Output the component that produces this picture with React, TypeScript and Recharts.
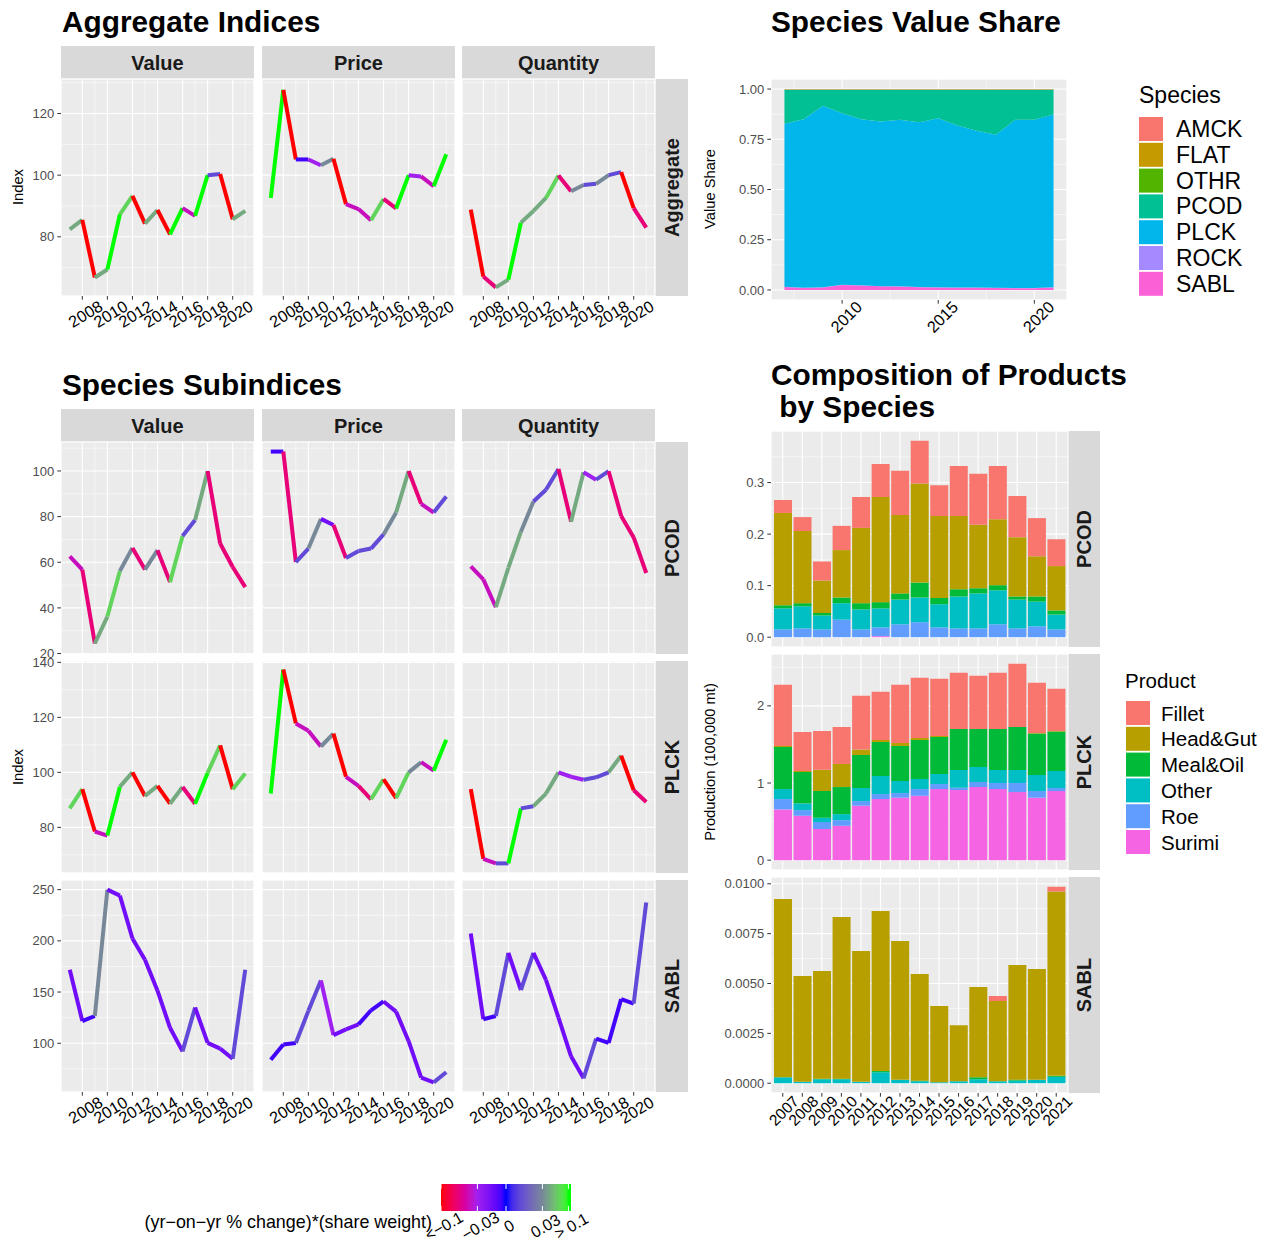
// Fishery indices dashboard: aggregate / species indices, value share, product composition

import React from "react";
import {
  LineChart,
  Line,
  AreaChart,
  Area,
  BarChart,
  Bar,
  XAxis,
  YAxis,
  CartesianGrid,
} from "recharts";

const FONT = '"Liberation Sans", Arial, Helvetica, sans-serif';

// ---------- data ----------
const years = [2007, 2008, 2009, 2010, 2011, 2012, 2013, 2014, 2015, 2016, 2017, 2018, 2019, 2020, 2021];

// (yr-on-yr % change)*(share weight) classes
const R = -0.1, C = -0.068, M = -0.045, P = -0.03, V = -0.015, B = -0.005, S = 0.012, G = 0.03, T = 0.05, L = 0.075, N = 0.1;

const aggValue = [82.4, 85.5, 66.8, 69.4, 87.3, 93.3, 84.3, 88.7, 80.8, 89.3, 86.8, 100, 100.4, 85.7, 88.4];
const aggValueChg = [T, R, T, N, L, R, T, R, N, M, N, S, R, T];
const aggPrice = [92.6, 127.7, 105.1, 105.1, 103.2, 105.3, 90.6, 89.0, 85.4, 92.3, 89.2, 100, 99.6, 96.4, 106.8];
const aggPriceChg = [N, R, B, P, G, R, M, M, L, C, N, P, M, N];
const aggQty = [88.8, 67.1, 63.6, 66.1, 84.6, 88.4, 92.6, 99.9, 94.8, 96.8, 97.2, 100, 101, 89.3, 83.0];
const aggQtyChg = [R, C, T, N, T, T, L, C, G, S, G, S, R, C];

const pcodValue = [62.6, 56.8, 24.4, 36.2, 56.2, 66.3, 56.8, 65.3, 51.3, 71.5, 78.5, 100, 68.2, 57.9, 49.1];
const pcodValueChg = [M, C, T, L, G, C, G, C, L, S, T, C, C, C];
const pcodPrice = [108.5, 108.5, 60.1, 66.0, 79.0, 76.3, 61.9, 64.9, 66.0, 72.2, 81.8, 100, 85.6, 81.8, 88.8];
const pcodPriceChg = [B, C, S, G, V, C, S, S, S, G, T, C, M, S];
const pcodQty = [58.2, 52.5, 40.3, 57.6, 73.4, 86.6, 91.8, 100.9, 77.8, 99.4, 96.2, 99.9, 80.3, 70.9, 55.3];
const pcodQtyChg = [M, M, T, T, G, S, S, C, T, P, S, C, C, C];

const plckValue = [86.9, 93.9, 78.5, 77.0, 94.8, 100, 91.4, 95.1, 88.6, 94.7, 88.6, 99.8, 109.8, 93.9, 99.6];
const plckValueChg = [L, R, M, N, T, R, T, R, T, C, N, L, R, L];
const plckPrice = [92.3, 137.4, 117.8, 115.1, 109.4, 114.1, 98.4, 95.1, 90.2, 97.5, 90.6, 100, 103.7, 100.6, 111.9];
const plckPriceChg = [N, R, M, M, G, R, M, C, L, R, L, G, M, N];
const plckQty = [93.9, 68.5, 66.9, 66.9, 86.9, 87.7, 92.3, 100, 98.4, 97.3, 98.2, 100, 106.1, 93.5, 89.2];
const plckQtyChg = [R, M, S, N, S, T, T, P, P, S, S, T, R, C];

const sablValue = [171.7, 121.7, 126.6, 250, 244.1, 202.3, 181.6, 151.3, 115.1, 92.1, 134.9, 100.3, 94.7, 84.9, 171.7];
const sablValueChg = [V, B, G, V, V, V, V, V, V, S, V, V, V, S];
const sablPrice = [83.9, 98.7, 100.3, 131.6, 161.2, 107.9, 113.5, 118.4, 132.2, 140.8, 130.9, 102, 66.4, 61.8, 71.7];
const sablPriceChg = [B, B, S, S, P, V, V, B, B, V, V, V, V, S];
const sablQty = [207.2, 123.4, 126.6, 188.2, 152, 188.2, 161.8, 125, 87.2, 65.8, 104.6, 100.3, 143.1, 138.8, 237.5];
const sablQtyChg = [V, B, S, V, S, V, V, V, V, S, B, B, B, S];

// species value share
const shareAMCK = [0.0005, 0.0005, 0.0005, 0.0005, 0.0005, 0.0005, 0.0005, 0.0005, 0.0005, 0.0005, 0.0005, 0.0005, 0.0005, 0.0005, 0.0005];
const shareFLAT = [0.002, 0.002, 0.002, 0.002, 0.002, 0.002, 0.002, 0.002, 0.002, 0.002, 0.002, 0.002, 0.002, 0.002, 0.002];
const shareOTHR = [0.0005, 0.0005, 0.0005, 0.0005, 0.0005, 0.0005, 0.0005, 0.0005, 0.0005, 0.0005, 0.0005, 0.0005, 0.0005, 0.0005, 0.0005];
const sharePCOD = [0.17, 0.147, 0.08, 0.117, 0.147, 0.159, 0.15, 0.162, 0.142, 0.179, 0.205, 0.225, 0.15, 0.15, 0.122];
const sharePLCK = [0.811, 0.839, 0.904, 0.854, 0.827, 0.819, 0.829, 0.82, 0.842, 0.806, 0.78, 0.761, 0.837, 0.837, 0.862];
const shareROCK = [0.001, 0.001, 0.001, 0.001, 0.001, 0.001, 0.001, 0.001, 0.001, 0.001, 0.001, 0.001, 0.001, 0.001, 0.001];
const shareSABL = [0.015, 0.01, 0.012, 0.025, 0.022, 0.018, 0.017, 0.014, 0.012, 0.011, 0.011, 0.01, 0.009, 0.009, 0.012];

// product composition (100,000 mt)
const pcodSurimi = [0, 0, 0, 0, 0, 0.002, 0, 0, 0, 0, 0, 0, 0, 0, 0];
const pcodRoe = [0.015, 0.017, 0.015, 0.034, 0.015, 0.017, 0.025, 0.029, 0.019, 0.017, 0.017, 0.025, 0.017, 0.021, 0.015];
const pcodOther = [0.041, 0.043, 0.027, 0.032, 0.039, 0.037, 0.048, 0.048, 0.045, 0.062, 0.068, 0.066, 0.056, 0.048, 0.029];
const pcodMeal = [0.006, 0.006, 0.005, 0.011, 0.012, 0.012, 0.012, 0.029, 0.012, 0.014, 0.01, 0.01, 0.006, 0.01, 0.008];
const pcodHeadGut = [0.179, 0.14, 0.063, 0.092, 0.146, 0.204, 0.152, 0.192, 0.159, 0.142, 0.123, 0.128, 0.115, 0.078, 0.086];
const pcodFillet = [0.025, 0.027, 0.037, 0.047, 0.06, 0.064, 0.086, 0.083, 0.06, 0.097, 0.099, 0.103, 0.08, 0.074, 0.052];

const plckSurimi = [0.658, 0.576, 0.403, 0.446, 0.706, 0.792, 0.81, 0.835, 0.922, 0.909, 0.948, 0.922, 0.883, 0.81, 0.896];
const plckRoe = [0.134, 0.073, 0.091, 0.073, 0.06, 0.065, 0.06, 0.087, 0.065, 0.03, 0.065, 0.078, 0.117, 0.086, 0.039];
const plckOther = [0.13, 0.087, 0.056, 0.078, 0.169, 0.234, 0.156, 0.13, 0.13, 0.23, 0.195, 0.169, 0.169, 0.208, 0.221];
const plckMeal = [0.546, 0.407, 0.346, 0.351, 0.429, 0.441, 0.455, 0.506, 0.48, 0.532, 0.493, 0.532, 0.558, 0.537, 0.511];
const plckHeadGut = [0.013, 0.013, 0.277, 0.299, 0.069, 0.026, 0.038, 0.026, 0.013, 0, 0, 0, 0, 0.008, 0.008];
const plckFillet = [0.792, 0.506, 0.502, 0.48, 0.697, 0.624, 0.754, 0.78, 0.741, 0.728, 0.689, 0.728, 0.818, 0.65, 0.546];

const sablSurimi = [0, 0, 0, 0, 0, 0, 0, 0, 0, 0, 0, 0, 0, 0, 0];
const sablRoe = [0, 0, 0, 0, 0, 0, 0, 0, 0, 0, 0, 0, 0, 0, 0];
const sablOther = [0.0003, 0.00007, 0.0002, 0.0002, 0.00007, 0.00055, 0.00017, 0.0001, 0.00005, 0.0001, 0.0002, 0.0001, 0.00013, 0.00017, 0.00032];
const sablMeal = [0, 0, 0.00003, 0.00003, 0, 0.00006, 0, 0.00003, 0, 0, 0.0001, 0, 0.00005, 0, 0.00005];
const sablHeadGut = [0.00894, 0.00531, 0.0054, 0.00811, 0.00656, 0.00803, 0.00696, 0.00535, 0.00382, 0.00281, 0.00452, 0.00402, 0.00575, 0.00556, 0.00924];
const sablFillet = [0, 0, 0, 0, 0, 0, 0, 0, 0, 0, 0, 0.00025, 0, 0, 0.00024];

const legendBreaks = [-0.1, -0.03, 0, 0.03, 0.1];
const legendLabels = ["<\u22120.1", "\u22120.03", "0", "0.03", "> 0.1"];

// ---------- colour scale (CIELAB interpolation, like scales::colour_ramp) ----------
const rampValues = [-0.1, -0.03, 0, 0.03, 0.1];
const rampColours = ["#FF0000", "#A020F0", "#0000FF", "#778899", "#00FF00"];
// where each ramp value sits along the colour bar (fraction of its width)
const rampPos = [0.0, 0.28, 0.5, 0.78, 0.98];

function toLin(c: number) {
  c /= 255;
  return c <= 0.04045 ? c / 12.92 : Math.pow((c + 0.055) / 1.055, 2.4);
}
function fromLin(c: number) {
  const v = c <= 0.0031308 ? 12.92 * c : 1.055 * Math.pow(c, 1 / 2.4) - 0.055;
  return Math.round(Math.max(0, Math.min(1, v)) * 255);
}
function hexToLab(h: string) {
  const r = toLin(parseInt(h.slice(1, 3), 16));
  const g = toLin(parseInt(h.slice(3, 5), 16));
  const b = toLin(parseInt(h.slice(5, 7), 16));
  const x = (r * 0.4124 + g * 0.3576 + b * 0.1805) / 0.95047;
  const y = r * 0.2126 + g * 0.7152 + b * 0.0722;
  const z = (r * 0.0193 + g * 0.1192 + b * 0.9505) / 1.08883;
  const f = (t: number) => (t > 0.008856 ? Math.cbrt(t) : 7.787 * t + 16 / 116);
  const fx = f(x), fy = f(y), fz = f(z);
  return [116 * fy - 16, 500 * (fx - fy), 200 * (fy - fz)];
}
function labToHex(lab: number[]) {
  const fy = (lab[0] + 16) / 116;
  const fx = fy + lab[1] / 500;
  const fz = fy - lab[2] / 200;
  const inv = (t: number) => (t * t * t > 0.008856 ? t * t * t : (t - 16 / 116) / 7.787);
  const x = inv(fx) * 0.95047, y = inv(fy), z = inv(fz) * 1.08883;
  const r = x * 3.2406 + y * -1.5372 + z * -0.4986;
  const g = x * -0.9689 + y * 1.8758 + z * 0.0415;
  const b = x * 0.0557 + y * -0.204 + z * 1.057;
  return "#" + [r, g, b].map((c) => fromLin(c).toString(16).padStart(2, "0")).join("");
}
const rampLab = rampColours.map(hexToLab);

function piece(v: number, xs: number[]) {
  const x = Math.max(xs[0], Math.min(xs[xs.length - 1], v));
  let i = 0;
  while (i < xs.length - 2 && x > xs[i + 1]) i++;
  return { i, t: (x - xs[i]) / (xs[i + 1] - xs[i]) };
}

function changeColor(v: number) {
  const { i, t } = piece(v, rampValues);
  const a = rampLab[i], b = rampLab[i + 1];
  return labToHex([a[0] + (b[0] - a[0]) * t, a[1] + (b[1] - a[1]) * t, a[2] + (b[2] - a[2]) * t]);
}

// ---------- shared pieces ----------
const xDomain: [number, number] = [2006.3, 2021.7];
const yearMajor = [2008, 2010, 2012, 2014, 2016, 2018, 2020];
const yearMinor = [2007, 2009, 2011, 2013, 2015, 2017, 2019, 2021];

const aggScale = { domain: [60.8, 131.2], major: [80, 100, 120], minor: [70, 90, 110, 130] };
const pcodScale = { domain: [19.8, 112.7], major: [20, 40, 60, 80, 100], minor: [30, 50, 70, 90, 110] };
const plckScale = { domain: [63.4, 140.5], major: [80, 100, 120, 140], minor: [70, 90, 110, 130] };
const sablScale = { domain: [52.4, 259.4], major: [100, 150, 200, 250], minor: [75, 125, 175, 225] };

const tickLine = { stroke: "#333333", strokeWidth: 1 };
const yTickStyle = { fill: "#4D4D4D", fontSize: 13, fontFamily: FONT };
const PAD = 9; // spare room around each chart so edge labels are not clipped

const yearTick = (p: any) => (
  <text
    transform={`translate(${p.x + 3},${p.y + 12}) rotate(-31)`}
    textAnchor="middle"
    dominantBaseline="central"
    fontSize={16.3}
    fontFamily={FONT}
    fill="#000"
  >
    {p.payload.value}
  </text>
);

const diagTick = (size: number, dx: number, dy: number) => (p: any) => (
  <text
    transform={`translate(${p.x + dx},${p.y + dy}) rotate(-45)`}
    textAnchor="middle"
    dominantBaseline="central"
    fontSize={size}
    fontFamily={FONT}
    fill="#000"
  >
    {p.payload.value}
  </text>
);

function LinePanel({ left, top, width, height, values, chg, scale, showY, showX }: any) {
  const yW = showY ? 52 : 0;
  const xH = showX ? 44 : 0;
  // one series per segment so each piece can take its own colour
  const rows = years.map((year, i) => {
    const row: any = { year };
    chg.forEach((_: number, k: number) => {
      row["s" + k] = i === k || i === k + 1 ? values[i] : null;
    });
    return row;
  });
  return (
    <div style={{ position: "absolute", left: left - yW, top: top - PAD }}>
      <LineChart
        width={width + yW + PAD}
        height={height + xH + 2 * PAD}
        data={rows}
        margin={{ top: PAD, right: PAD, bottom: PAD, left: 0 }}
      >
        <XAxis xAxisId="mn" type="number" dataKey="year" domain={xDomain} ticks={yearMinor} hide allowDataOverflow />
        <YAxis yAxisId="mn" type="number" domain={scale.domain} ticks={scale.minor} hide allowDataOverflow />
        <CartesianGrid xAxisId="mn" yAxisId="mn" fill="#EBEBEB" fillOpacity={1} stroke="#FFFFFF" strokeWidth={0.55} />
        <CartesianGrid stroke="#FFFFFF" strokeWidth={1.1} />
        <XAxis
          type="number"
          dataKey="year"
          domain={xDomain}
          ticks={yearMajor}
          interval={0}
          allowDataOverflow
          hide={!showX}
          height={xH}
          axisLine={false}
          tickLine={tickLine}
          tickSize={3.7}
          tick={yearTick}
        />
        <YAxis
          type="number"
          domain={scale.domain}
          ticks={scale.major}
          interval={0}
          allowDataOverflow
          hide={!showY}
          width={yW}
          axisLine={false}
          tickLine={tickLine}
          tickSize={3.7}
          tickMargin={3}
          tick={yTickStyle}
        />
        {chg.map((c: number, k: number) => (
          <Line
            key={k}
            type="linear"
            dataKey={"s" + k}
            stroke={changeColor(c)}
            strokeWidth={4}
            strokeLinecap="butt"
            dot={false}
            activeDot={false}
            connectNulls={false}
            isAnimationActive={false}
          />
        ))}
      </LineChart>
    </div>
  );
}

const species = [
  { key: "SABL", color: "#FB61D7", vals: shareSABL },
  { key: "ROCK", color: "#A58AFF", vals: shareROCK },
  { key: "PLCK", color: "#00B6EB", vals: sharePLCK },
  { key: "PCOD", color: "#00C094", vals: sharePCOD },
  { key: "OTHR", color: "#53B400", vals: shareOTHR },
  { key: "FLAT", color: "#C49A00", vals: shareFLAT },
  { key: "AMCK", color: "#F8766D", vals: shareAMCK },
];

function SharePanel() {
  const rows = years.map((year, i) => {
    const row: any = { year };
    species.forEach((s) => (row[s.key] = s.vals[i]));
    return row;
  });
  const yW = 60;
  return (
    <div style={{ position: "absolute", left: 771 - yW, top: 79 - PAD }}>
      <AreaChart
        width={296 + yW + 20}
        height={221 + 44 + PAD}
        data={rows}
        margin={{ top: PAD, right: 20, bottom: 0, left: 0 }}
      >
        <XAxis xAxisId="mn" type="number" dataKey="year" domain={xDomain} ticks={[2007.5, 2012.5, 2017.5]} hide allowDataOverflow />
        <YAxis yAxisId="mn" type="number" domain={[-0.05, 1.05]} ticks={[0.125, 0.375, 0.625, 0.875]} hide allowDataOverflow />
        <CartesianGrid xAxisId="mn" yAxisId="mn" fill="#EBEBEB" fillOpacity={1} stroke="#FFFFFF" strokeWidth={0.55} />
        <CartesianGrid stroke="#FFFFFF" strokeWidth={1.1} />
        <XAxis
          type="number"
          dataKey="year"
          domain={xDomain}
          ticks={[2010, 2015, 2020]}
          interval={0}
          allowDataOverflow
          height={44}
          axisLine={false}
          tickLine={tickLine}
          tickSize={3.7}
          tick={diagTick(16.3, 4, 11)}
        />
        <YAxis
          type="number"
          domain={[-0.05, 1.05]}
          ticks={[0, 0.25, 0.5, 0.75, 1]}
          interval={0}
          allowDataOverflow
          width={yW}
          axisLine={false}
          tickLine={tickLine}
          tickSize={3.7}
          tickMargin={3}
          tick={yTickStyle}
          tickFormatter={(v: number) => v.toFixed(2)}
        />
        {species.map((s) => (
          <Area
            key={s.key}
            type="linear"
            dataKey={s.key}
            stackId="1"
            fill={s.color}
            fillOpacity={1}
            stroke="none"
            isAnimationActive={false}
          />
        ))}
      </AreaChart>
    </div>
  );
}

const products = [
  { key: "Surimi", color: "#F564E3" },
  { key: "Roe", color: "#619CFF" },
  { key: "Other", color: "#00BFC4" },
  { key: "Meal&Oil", color: "#00BA38" },
  { key: "Head&Gut", color: "#B79F00" },
  { key: "Fillet", color: "#F8766D" },
];

function compRows(lists: number[][]) {
  return years.map((year, i) => {
    const row: any = { year: String(year) };
    products.forEach((p, j) => (row[p.key] = lists[j][i]));
    return row;
  });
}

const pcodComp = compRows([pcodSurimi, pcodRoe, pcodOther, pcodMeal, pcodHeadGut, pcodFillet]);
const plckComp = compRows([plckSurimi, plckRoe, plckOther, plckMeal, plckHeadGut, plckFillet]);
const sablComp = compRows([sablSurimi, sablRoe, sablOther, sablMeal, sablHeadGut, sablFillet]);

function CompPanel({ top, data, domain, major, minor, digits, showX }: any) {
  const yW = 70;
  const xH = showX ? 46 : 0;
  return (
    <div style={{ position: "absolute", left: 771 - yW, top: top - PAD }}>
      <BarChart
        width={297 + yW + 20}
        height={216 + xH + 2 * PAD}
        data={data}
        margin={{ top: PAD, right: 20, bottom: PAD, left: 0 }}
        barCategoryGap="5%"
      >
        <YAxis yAxisId="mn" type="number" domain={domain} ticks={minor} hide allowDataOverflow />
        <CartesianGrid yAxisId="mn" vertical={false} fill="#EBEBEB" fillOpacity={1} stroke="#FFFFFF" strokeWidth={0.55} />
        <CartesianGrid stroke="#FFFFFF" strokeWidth={1.1} />
        <XAxis
          dataKey="year"
          type="category"
          padding={{ left: 2, right: 2 }}
          interval={0}
          hide={!showX}
          height={xH}
          axisLine={false}
          tickLine={tickLine}
          tickSize={3.7}
          tick={diagTick(15.5, 1, 12)}
        />
        <YAxis
          type="number"
          domain={domain}
          ticks={major}
          interval={0}
          allowDataOverflow
          width={yW}
          axisLine={false}
          tickLine={tickLine}
          tickSize={3.7}
          tickMargin={3}
          tick={yTickStyle}
          tickFormatter={(v: number) => v.toFixed(digits)}
        />
        {products.map((p) => (
          <Bar key={p.key} dataKey={p.key} stackId="a" fill={p.color} isAnimationActive={false} />
        ))}
      </BarChart>
    </div>
  );
}

// ---------- static text / strips ----------
const colLeft = [61, 262, 462];
const colNames = ["Value", "Price", "Quantity"];
const panelW = 193;
const subTops = [442, 661, 880];
const subH = 212;
const compTops = [431, 654, 877];

function Strip({ x, y, w, h, label }: any) {
  return (
    <g>
      <rect x={x} y={y} width={w} height={h} fill="#D9D9D9" />
      <text x={x + w / 2} y={y + h / 2 + 7} textAnchor="middle" fontSize={20} fontWeight="bold" fill="#1A1A1A">
        {label}
      </text>
    </g>
  );
}

function VStrip({ x, y, w, h, label }: any) {
  return (
    <g>
      <rect x={x} y={y} width={w} height={h} fill="#D9D9D9" />
      <text
        transform={`translate(${x + w / 2 + 7},${y + h / 2}) rotate(-90)`}
        textAnchor="middle"
        fontSize={20}
        fontWeight="bold"
        fill="#1A1A1A"
      >
        {label}
      </text>
    </g>
  );
}

function VText({ x, y, label, size = 14.7 }: any) {
  return (
    <text transform={`translate(${x},${y}) rotate(-90)`} textAnchor="middle" fontSize={size} fill="#000">
      {label}
    </text>
  );
}

const speciesLegend = ["AMCK", "FLAT", "OTHR", "PCOD", "PLCK", "ROCK", "SABL"];
const productLegend = ["Fillet", "Head&Gut", "Meal&Oil", "Other", "Roe", "Surimi"];

function Overlay() {
  const barX = 441, barW = 130, barY = 1184, barH = 27;
  const pos = (v: number) => {
    const { i, t } = piece(v, rampValues);
    return barX + (rampPos[i] + (rampPos[i + 1] - rampPos[i]) * t) * barW;
  };
  const gradStops = Array.from({ length: 41 }, (_, i) => -0.1 + (i * 0.2) / 40);
  return (
    <svg width={1270} height={1241} style={{ position: "absolute", left: 0, top: 0 }} fontFamily={FONT}>
      <defs>
        <linearGradient id="chgGrad" x1="0" y1="0" x2="1" y2="0">
          {gradStops.map((v, i) => (
            <stop key={i} offset={`${((pos(v) - barX) / barW) * 100}%`} stopColor={changeColor(v)} />
          ))}
          <stop offset="100%" stopColor={changeColor(0.1)} />
        </linearGradient>
      </defs>

      {/* titles */}
      <text x={62} y={32} fontSize={29.8} fontWeight="bold" fill="#000">Aggregate Indices</text>
      <text x={771} y={32} fontSize={29.8} fontWeight="bold" fill="#000">Species Value Share</text>
      <text x={62} y={395} fontSize={29.8} fontWeight="bold" fill="#000">Species Subindices</text>
      <text x={771} y={385} fontSize={29.8} fontWeight="bold" fill="#000">Composition of Products</text>
      <text x={771} y={417} fontSize={29.8} fontWeight="bold" fill="#000" xmlSpace="preserve"> by Species</text>

      {/* facet strips */}
      {colLeft.map((x, i) => (
        <Strip key={"a" + i} x={x} y={46} w={panelW} h={33} label={colNames[i]} />
      ))}
      <VStrip x={655} y={79} w={33} h={217} label="Aggregate" />
      {colLeft.map((x, i) => (
        <Strip key={"b" + i} x={x} y={409} w={panelW} h={33} label={colNames[i]} />
      ))}
      {["PCOD", "PLCK", "SABL"].map((s, i) => (
        <VStrip key={s} x={655} y={subTops[i]} w={33} h={subH} label={s} />
      ))}
      {["PCOD", "PLCK", "SABL"].map((s, i) => (
        <VStrip key={"c" + s} x={1068} y={compTops[i]} w={32} h={216} label={s} />
      ))}

      {/* axis titles */}
      <VText x={23} y={187} label="Index" />
      <VText x={23} y={767} label="Index" />
      <VText x={715} y={189} label="Value Share" />
      <VText x={715} y={762} label="Production (100,000 mt)" />

      {/* species legend */}
      <text x={1139} y={103} fontSize={23} fill="#000">Species</text>
      {speciesLegend.map((s, i) => {
        const sp = species.find((q) => q.key === s)!;
        const cy = 129 + i * 25.8;
        return (
          <g key={s}>
            <rect x={1139} y={cy - 12} width={24} height={24} fill={sp.color} />
            <text x={1176} y={cy + 8} fontSize={23} fill="#000">{s}</text>
          </g>
        );
      })}

      {/* product legend */}
      <text x={1125} y={688} fontSize={20.5} fill="#000">Product</text>
      {productLegend.map((s, i) => {
        const pr = products.find((q) => q.key === s)!;
        const cy = 713 + i * 25.8;
        return (
          <g key={s}>
            <rect x={1126} y={cy - 12} width={24} height={24} fill={pr.color} />
            <text x={1161} y={cy + 7.5} fontSize={20.5} fill="#000">{s}</text>
          </g>
        );
      })}

      {/* colour bar legend */}
      <text x={432} y={1228} textAnchor="end" fontSize={17.9} fill="#000">
        (yr{"\u2212"}on{"\u2212"}yr % change)*(share weight)
      </text>
      <rect x={barX} y={barY} width={barW} height={barH} fill="url(#chgGrad)" />
      {legendBreaks.map((v, i) => (
        <g key={i}>
          <line x1={pos(v)} x2={pos(v)} y1={barY} y2={barY + 5} stroke="#fff" strokeWidth={1} />
          <line x1={pos(v)} x2={pos(v)} y1={barY + barH - 5} y2={barY + barH} stroke="#fff" strokeWidth={1} />
          <text
            transform={`translate(${pos(v) + 3},${barY + barH + 15}) rotate(-30)`}
            textAnchor="middle"
            dominantBaseline="central"
            fontSize={16}
            fill="#000"
          >
            {legendLabels[i]}
          </text>
        </g>
      ))}
    </svg>
  );
}

export default function App() {
  const agg = [
    { values: aggValue, chg: aggValueChg },
    { values: aggPrice, chg: aggPriceChg },
    { values: aggQty, chg: aggQtyChg },
  ];
  const sub = [
    { scale: pcodScale, cols: [[pcodValue, pcodValueChg], [pcodPrice, pcodPriceChg], [pcodQty, pcodQtyChg]] },
    { scale: plckScale, cols: [[plckValue, plckValueChg], [plckPrice, plckPriceChg], [plckQty, plckQtyChg]] },
    { scale: sablScale, cols: [[sablValue, sablValueChg], [sablPrice, sablPriceChg], [sablQty, sablQtyChg]] },
  ];
  return (
    <div style={{ position: "absolute", left: 0, top: 0, width: 1270, height: 1241, background: "#fff", fontFamily: FONT }}>
      <Overlay />
      {agg.map((a, i) => (
        <LinePanel
          key={"agg" + i}
          left={colLeft[i]}
          top={79}
          width={panelW}
          height={217}
          values={a.values}
          chg={a.chg}
          scale={aggScale}
          showY={i === 0}
          showX
        />
      ))}
      {sub.map((r, ri) =>
        r.cols.map((c, ci) => (
          <LinePanel
            key={"sub" + ri + ci}
            left={colLeft[ci]}
            top={subTops[ri]}
            width={panelW}
            height={subH}
            values={c[0]}
            chg={c[1]}
            scale={r.scale}
            showY={ci === 0}
            showX={ri === 2}
          />
        ))
      )}
      <SharePanel />
      <CompPanel top={compTops[0]} data={pcodComp} domain={[-0.019, 0.4]} major={[0, 0.1, 0.2, 0.3]} minor={[0.05, 0.15, 0.25, 0.35]} digits={1} />
      <CompPanel top={compTops[1]} data={plckComp} domain={[-0.127, 2.672]} major={[0, 1, 2]} minor={[0.5, 1.5, 2.5]} digits={0} />
      <CompPanel
        top={compTops[2]}
        data={sablComp}
        domain={[-0.00049, 0.01034]}
        major={[0, 0.0025, 0.005, 0.0075, 0.01]}
        minor={[0.00125, 0.00375, 0.00625, 0.00875]}
        digits={4}
        showX
      />
    </div>
  );
}
